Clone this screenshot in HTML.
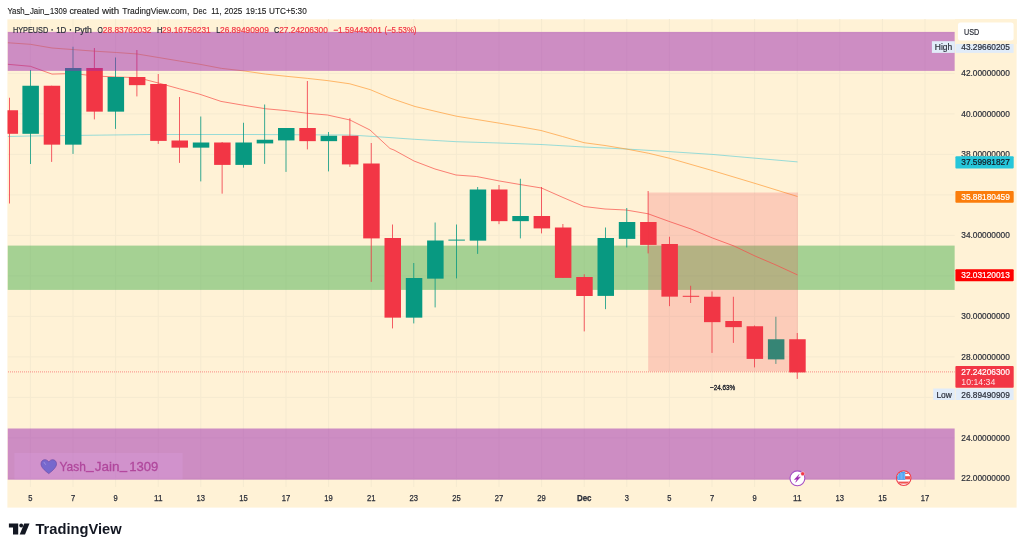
<!DOCTYPE html>
<html><head><meta charset="utf-8"><title>HYPEUSD chart</title>
<style>
html,body{margin:0;padding:0;background:#fff;}
body{width:1024px;height:551px;overflow:hidden;position:relative;font-family:"Liberation Sans",sans-serif;}
svg{position:absolute;left:0;top:0;display:block;will-change:transform;}
text{font-family:"Liberation Sans",sans-serif;}
</style></head><body>
<svg width="1024" height="551" viewBox="0 0 1024 551">
<defs><clipPath id="pane"><rect x="7.5" y="19" width="947.3" height="468.2"/></clipPath></defs>
<rect x="7.4" y="19.3" width="1009.2" height="488.3" fill="#fff2d6"/>
<g stroke="#f5ead0" stroke-width="1" clip-path="url(#pane)">
<line x1="30.40" y1="19" x2="30.40" y2="487"/>
<line x1="73.00" y1="19" x2="73.00" y2="487"/>
<line x1="115.60" y1="19" x2="115.60" y2="487"/>
<line x1="158.20" y1="19" x2="158.20" y2="487"/>
<line x1="200.80" y1="19" x2="200.80" y2="487"/>
<line x1="243.40" y1="19" x2="243.40" y2="487"/>
<line x1="286.00" y1="19" x2="286.00" y2="487"/>
<line x1="328.60" y1="19" x2="328.60" y2="487"/>
<line x1="371.20" y1="19" x2="371.20" y2="487"/>
<line x1="413.80" y1="19" x2="413.80" y2="487"/>
<line x1="456.40" y1="19" x2="456.40" y2="487"/>
<line x1="499.00" y1="19" x2="499.00" y2="487"/>
<line x1="541.60" y1="19" x2="541.60" y2="487"/>
<line x1="584.20" y1="19" x2="584.20" y2="487"/>
<line x1="626.80" y1="19" x2="626.80" y2="487"/>
<line x1="669.40" y1="19" x2="669.40" y2="487"/>
<line x1="712.00" y1="19" x2="712.00" y2="487"/>
<line x1="754.60" y1="19" x2="754.60" y2="487"/>
<line x1="797.20" y1="19" x2="797.20" y2="487"/>
<line x1="839.80" y1="19" x2="839.80" y2="487"/>
<line x1="882.40" y1="19" x2="882.40" y2="487"/>
<line x1="925.00" y1="19" x2="925.00" y2="487"/>
<line x1="8" y1="32.90" x2="954.8" y2="32.90"/>
<line x1="8" y1="73.40" x2="954.8" y2="73.40"/>
<line x1="8" y1="113.90" x2="954.8" y2="113.90"/>
<line x1="8" y1="154.40" x2="954.8" y2="154.40"/>
<line x1="8" y1="194.90" x2="954.8" y2="194.90"/>
<line x1="8" y1="235.40" x2="954.8" y2="235.40"/>
<line x1="8" y1="275.90" x2="954.8" y2="275.90"/>
<line x1="8" y1="316.40" x2="954.8" y2="316.40"/>
<line x1="8" y1="356.90" x2="954.8" y2="356.90"/>
<line x1="8" y1="397.40" x2="954.8" y2="397.40"/>
<line x1="8" y1="437.90" x2="954.8" y2="437.90"/>
<line x1="8" y1="478.40" x2="954.8" y2="478.40"/>
</g>
<g clip-path="url(#pane)">
<rect x="7.5" y="245.6" width="947.3" height="44.3" fill="#4caf50" fill-opacity="0.5"/>
<path d="M7.80,136.50 L30.00,136.00 L150.00,134.50 L250.00,134.50 L350.00,135.00 L380.00,136.90 L414.40,139.30 L456.30,141.70 L499.20,143.00 L541.00,144.50 L584.00,147.00 L626.20,149.00 L669.20,151.60 L712.00,154.40 L755.00,158.20 L797.50,161.90" fill="none" stroke="#5fcfd6" stroke-opacity="0.68" stroke-width="0.95"/>
<path d="M7.80,42.75 L30.40,44.30 L52.00,48.00 L73.50,49.60 L94.70,51.20 L116.70,52.50 L137.30,54.00 L158.40,57.50 L179.40,61.00 L200.00,64.30 L221.50,68.40 L243.75,70.90 L265.60,74.10 L286.00,76.25 L307.60,78.40 L328.20,80.70 L349.80,83.80 L370.40,89.70 L390.00,98.00 L415.00,106.50 L440.00,112.40 L456.40,116.20 L499.50,123.20 L520.00,126.70 L541.00,130.50 L562.50,136.50 L584.00,142.70 L605.00,145.50 L626.20,149.00 L648.75,153.30 L669.20,158.20 L712.10,170.50 L755.00,183.40 L797.50,196.50" fill="none" stroke="#ff9830" stroke-opacity="0.75" stroke-width="0.9"/>
<path d="M7.80,64.30 L30.40,66.30 L52.00,74.10 L73.50,73.50 L94.70,76.00 L116.70,77.00 L137.30,77.60 L158.40,83.00 L179.40,88.80 L200.00,94.30 L221.00,101.40 L243.75,105.30 L265.60,108.75 L286.00,110.60 L307.50,113.30 L327.50,115.00 L350.00,120.00 L370.00,130.00 L390.00,148.50 L394.00,150.00 L414.00,161.00 L435.00,169.00 L456.00,175.00 L476.50,176.50 L499.50,181.00 L520.00,184.50 L541.50,188.00 L563.00,197.50 L584.00,206.50 L605.00,209.00 L626.00,210.00 L648.00,213.75 L670.00,221.75 L691.00,229.00 L712.50,238.00 L734.00,246.00 L755.00,256.00 L776.00,265.00 L797.50,274.90" fill="none" stroke="#f8564f" stroke-opacity="0.78" stroke-width="0.95"/>
<line x1="8" y1="371.9" x2="954.8" y2="371.9" stroke="#f23645" stroke-opacity="0.55" stroke-width="1" stroke-dasharray="1 1"/>
<rect x="9.15" y="97.75" width="0.8" height="105.75" fill="#f23645"/>
<rect x="1.55" y="110.25" width="16.5" height="23.55" fill="#f23645"/>
<rect x="30.00" y="70.00" width="0.8" height="94.00" fill="#089981"/>
<rect x="22.40" y="85.75" width="16.5" height="48.05" fill="#089981"/>
<rect x="51.30" y="85.75" width="0.8" height="76.15" fill="#f23645"/>
<rect x="43.70" y="85.75" width="16.5" height="58.90" fill="#f23645"/>
<rect x="72.60" y="46.75" width="0.8" height="107.15" fill="#089981"/>
<rect x="65.00" y="68.00" width="16.5" height="76.65" fill="#089981"/>
<rect x="93.90" y="48.00" width="0.8" height="71.40" fill="#f23645"/>
<rect x="86.30" y="68.00" width="16.5" height="43.65" fill="#f23645"/>
<rect x="115.20" y="57.50" width="0.8" height="71.40" fill="#089981"/>
<rect x="107.60" y="77.00" width="16.5" height="34.65" fill="#089981"/>
<rect x="136.50" y="50.00" width="0.8" height="46.40" fill="#f23645"/>
<rect x="128.90" y="77.00" width="16.5" height="8.15" fill="#f23645"/>
<rect x="157.80" y="74.00" width="0.8" height="69.90" fill="#f23645"/>
<rect x="150.20" y="84.00" width="16.5" height="56.90" fill="#f23645"/>
<rect x="179.10" y="97.00" width="0.8" height="65.90" fill="#f23645"/>
<rect x="171.50" y="140.50" width="16.5" height="7.15" fill="#f23645"/>
<rect x="200.40" y="116.50" width="0.8" height="64.90" fill="#089981"/>
<rect x="192.80" y="142.50" width="16.5" height="5.15" fill="#089981"/>
<rect x="221.70" y="142.00" width="0.8" height="51.65" fill="#f23645"/>
<rect x="214.10" y="142.50" width="16.5" height="22.40" fill="#f23645"/>
<rect x="243.00" y="122.75" width="0.8" height="44.90" fill="#089981"/>
<rect x="235.40" y="142.50" width="16.5" height="22.40" fill="#089981"/>
<rect x="264.30" y="104.50" width="0.8" height="59.40" fill="#089981"/>
<rect x="256.70" y="139.75" width="16.5" height="3.65" fill="#089981"/>
<rect x="285.60" y="128.00" width="0.8" height="43.90" fill="#089981"/>
<rect x="278.00" y="128.00" width="16.5" height="12.40" fill="#089981"/>
<rect x="306.90" y="81.00" width="0.8" height="68.40" fill="#f23645"/>
<rect x="299.30" y="128.00" width="16.5" height="13.15" fill="#f23645"/>
<rect x="328.20" y="132.00" width="0.8" height="39.40" fill="#089981"/>
<rect x="320.60" y="135.75" width="16.5" height="5.40" fill="#089981"/>
<rect x="349.50" y="118.25" width="0.8" height="48.65" fill="#f23645"/>
<rect x="341.90" y="135.75" width="16.5" height="28.65" fill="#f23645"/>
<rect x="370.80" y="143.00" width="0.8" height="138.90" fill="#f23645"/>
<rect x="363.20" y="163.50" width="16.5" height="74.90" fill="#f23645"/>
<rect x="392.10" y="224.50" width="0.8" height="103.90" fill="#f23645"/>
<rect x="384.50" y="238.00" width="16.5" height="79.65" fill="#f23645"/>
<rect x="413.40" y="263.00" width="0.8" height="60.40" fill="#089981"/>
<rect x="405.80" y="278.00" width="16.5" height="39.65" fill="#089981"/>
<rect x="434.70" y="222.50" width="0.8" height="84.90" fill="#089981"/>
<rect x="427.10" y="240.50" width="16.5" height="38.15" fill="#089981"/>
<rect x="456.00" y="224.50" width="0.8" height="53.90" fill="#089981"/>
<rect x="448.40" y="239.60" width="16.5" height="1.00" fill="#089981"/>
<rect x="477.30" y="187.00" width="0.8" height="66.90" fill="#089981"/>
<rect x="469.70" y="189.50" width="16.5" height="51.15" fill="#089981"/>
<rect x="498.60" y="185.00" width="0.8" height="39.15" fill="#f23645"/>
<rect x="491.00" y="189.50" width="16.5" height="31.65" fill="#f23645"/>
<rect x="519.90" y="178.75" width="0.8" height="59.65" fill="#089981"/>
<rect x="512.30" y="216.00" width="16.5" height="5.15" fill="#089981"/>
<rect x="541.20" y="187.00" width="0.8" height="46.40" fill="#f23645"/>
<rect x="533.60" y="216.00" width="16.5" height="12.40" fill="#f23645"/>
<rect x="562.50" y="224.00" width="0.8" height="53.90" fill="#f23645"/>
<rect x="554.90" y="227.50" width="16.5" height="50.40" fill="#f23645"/>
<rect x="583.80" y="274.25" width="0.8" height="57.15" fill="#f23645"/>
<rect x="576.20" y="277.00" width="16.5" height="19.00" fill="#f23645"/>
<rect x="605.10" y="227.50" width="0.8" height="81.65" fill="#089981"/>
<rect x="597.50" y="238.00" width="16.5" height="57.90" fill="#089981"/>
<rect x="626.40" y="208.00" width="0.8" height="39.40" fill="#089981"/>
<rect x="618.80" y="222.00" width="16.5" height="16.90" fill="#089981"/>
<rect x="647.70" y="191.00" width="0.8" height="62.40" fill="#f23645"/>
<rect x="640.10" y="222.00" width="16.5" height="22.90" fill="#f23645"/>
<rect x="669.00" y="236.75" width="0.8" height="69.40" fill="#f23645"/>
<rect x="661.40" y="244.00" width="16.5" height="52.65" fill="#f23645"/>
<rect x="690.30" y="285.75" width="0.8" height="17.25" fill="#f23645"/>
<rect x="682.70" y="295.80" width="16.5" height="1.00" fill="#f23645"/>
<rect x="711.60" y="291.50" width="0.8" height="61.40" fill="#f23645"/>
<rect x="704.00" y="296.75" width="16.5" height="25.40" fill="#f23645"/>
<rect x="732.90" y="296.75" width="0.8" height="46.15" fill="#f23645"/>
<rect x="725.30" y="321.00" width="16.5" height="6.15" fill="#f23645"/>
<rect x="754.20" y="325.50" width="0.8" height="41.90" fill="#f23645"/>
<rect x="746.60" y="326.25" width="16.5" height="32.65" fill="#f23645"/>
<rect x="775.50" y="316.75" width="0.8" height="47.15" fill="#089981"/>
<rect x="767.90" y="339.25" width="16.5" height="20.15" fill="#089981"/>
<rect x="796.80" y="333.00" width="0.8" height="45.90" fill="#f23645"/>
<rect x="789.20" y="339.25" width="16.5" height="33.15" fill="#f23645"/>
<rect x="648.2" y="192.5" width="149.8" height="178.9" fill="#f23645" fill-opacity="0.2"/>
<rect x="7.5" y="31.9" width="947.3" height="39.0" fill="#9c27b0" fill-opacity="0.5"/>
<rect x="7.5" y="428.5" width="947.3" height="51.2" fill="#9c27b0" fill-opacity="0.5"/>
<rect x="14.5" y="453" width="168" height="26.5" fill="#d9a0e0" fill-opacity="0.3"/>
</g>
<text x="722.6" y="389.9" font-size="7.7" fill="#23262f" stroke="#23262f" stroke-width="0.35" text-anchor="middle" textLength="25.3" lengthAdjust="spacingAndGlyphs">−24.63%</text>
<path d="M48.75,473.6 C44,470 41,467 41,463.8 C41,461.3 42.8,459.7 44.9,459.7 C46.5,459.7 47.9,460.6 48.75,462.1 C49.6,460.6 51,459.7 52.6,459.7 C54.7,459.7 56.5,461.3 56.5,463.8 C56.5,467 53.5,470 48.75,473.6 Z" fill="#7668cd" stroke="#6b4ba8" stroke-width="0.7"/>
<path d="M44.1,462.4 L45.5,464.4" stroke="#a79ae4" stroke-width="0.8" stroke-linecap="round" fill="none"/>
<text x="59.50" y="471.0" font-size="13.6" fill="#b0479c" stroke="#b0479c" stroke-width="0.3" textLength="26.40" lengthAdjust="spacingAndGlyphs">Yash</text>
<text x="94.80" y="471.0" font-size="13.6" fill="#b0479c" stroke="#b0479c" stroke-width="0.3" textLength="24.80" lengthAdjust="spacingAndGlyphs">Jain</text>
<text x="129.30" y="471.0" font-size="13.6" fill="#b0479c" stroke="#b0479c" stroke-width="0.3" textLength="29.10" lengthAdjust="spacingAndGlyphs">1309</text>
<rect x="85.7" y="470.9" width="8.2" height="1.3" fill="#b4489f"/><rect x="119.4" y="470.9" width="8.0" height="1.3" fill="#b4489f"/>
<text x="7.50" y="13.7" font-size="9.9" fill="#1e1e1e" stroke="#1e1e1e" stroke-width="0.15" textLength="17.20" lengthAdjust="spacingAndGlyphs">Yash</text>
<text x="29.90" y="13.7" font-size="9.9" fill="#1e1e1e" stroke="#1e1e1e" stroke-width="0.15" textLength="14.50" lengthAdjust="spacingAndGlyphs">Jain</text>
<text x="50.00" y="13.7" font-size="9.9" fill="#1e1e1e" stroke="#1e1e1e" stroke-width="0.15" textLength="16.90" lengthAdjust="spacingAndGlyphs">1309</text>
<rect x="24.5" y="14.05" width="4.9" height="0.85" fill="#1e1e1e"/><rect x="44.3" y="14.05" width="5.0" height="0.85" fill="#1e1e1e"/>
<text x="69.40" y="13.7" font-size="9.9" fill="#1e1e1e" stroke="#1e1e1e" stroke-width="0.15" textLength="29.85" lengthAdjust="spacingAndGlyphs">created</text>
<text x="101.90" y="13.7" font-size="9.9" fill="#1e1e1e" stroke="#1e1e1e" stroke-width="0.15" textLength="17.35" lengthAdjust="spacingAndGlyphs">with</text>
<text x="122.30" y="13.7" font-size="9.9" fill="#1e1e1e" stroke="#1e1e1e" stroke-width="0.15" textLength="66.95" lengthAdjust="spacingAndGlyphs">TradingView.com,</text>
<text x="193.00" y="13.7" font-size="9.9" fill="#1e1e1e" stroke="#1e1e1e" stroke-width="0.15" textLength="13.40" lengthAdjust="spacingAndGlyphs">Dec</text>
<text x="211.30" y="13.7" font-size="9.9" fill="#1e1e1e" stroke="#1e1e1e" stroke-width="0.15" textLength="10.30" lengthAdjust="spacingAndGlyphs">11,</text>
<text x="224.30" y="13.7" font-size="9.9" fill="#1e1e1e" stroke="#1e1e1e" stroke-width="0.15" textLength="18.10" lengthAdjust="spacingAndGlyphs">2025</text>
<text x="245.70" y="13.7" font-size="9.9" fill="#1e1e1e" stroke="#1e1e1e" stroke-width="0.15" textLength="20.70" lengthAdjust="spacingAndGlyphs">19:15</text>
<text x="269.10" y="13.7" font-size="9.9" fill="#1e1e1e" stroke="#1e1e1e" stroke-width="0.15" textLength="37.65" lengthAdjust="spacingAndGlyphs">UTC+5:30</text>
<text x="12.90" y="32.6" font-size="8.9" fill="#2a2e39" stroke="#2a2e39" stroke-width="0.2" textLength="35.30" lengthAdjust="spacingAndGlyphs">HYPEUSD</text>
<circle cx="52.1" cy="29.9" r="0.8" fill="#2a2e39"/>
<text x="56.20" y="32.6" font-size="8.9" fill="#2a2e39" stroke="#2a2e39" stroke-width="0.2" textLength="10.20" lengthAdjust="spacingAndGlyphs">1D</text>
<circle cx="70.4" cy="29.9" r="0.8" fill="#2a2e39"/>
<text x="74.60" y="32.6" font-size="8.9" fill="#2a2e39" stroke="#2a2e39" stroke-width="0.2" textLength="17.30" lengthAdjust="spacingAndGlyphs">Pyth</text>
<text x="97.50" y="32.6" font-size="8.9" fill="#2a2e39" stroke="#2a2e39" stroke-width="0.2" textLength="5.30" lengthAdjust="spacingAndGlyphs">O</text>
<text x="102.80" y="32.6" font-size="8.9" fill="#f23645" stroke="#f23645" stroke-width="0.2" textLength="48.70" lengthAdjust="spacingAndGlyphs">28.83762032</text>
<text x="156.90" y="32.6" font-size="8.9" fill="#2a2e39" stroke="#2a2e39" stroke-width="0.2" textLength="5.50" lengthAdjust="spacingAndGlyphs">H</text>
<text x="162.10" y="32.6" font-size="8.9" fill="#f23645" stroke="#f23645" stroke-width="0.2" textLength="48.60" lengthAdjust="spacingAndGlyphs">29.16756231</text>
<text x="216.20" y="32.6" font-size="8.9" fill="#2a2e39" stroke="#2a2e39" stroke-width="0.2" textLength="4.10" lengthAdjust="spacingAndGlyphs">L</text>
<text x="220.00" y="32.6" font-size="8.9" fill="#f23645" stroke="#f23645" stroke-width="0.2" textLength="48.80" lengthAdjust="spacingAndGlyphs">26.89490909</text>
<text x="274.00" y="32.6" font-size="8.9" fill="#2a2e39" stroke="#2a2e39" stroke-width="0.2" textLength="5.30" lengthAdjust="spacingAndGlyphs">C</text>
<text x="279.20" y="32.6" font-size="8.9" fill="#f23645" stroke="#f23645" stroke-width="0.2" textLength="48.60" lengthAdjust="spacingAndGlyphs">27.24206300</text>
<text x="333.20" y="32.6" font-size="8.9" fill="#f23645" stroke="#f23645" stroke-width="0.2" textLength="48.80" lengthAdjust="spacingAndGlyphs">−1.59443001</text>
<text x="384.40" y="32.6" font-size="8.9" fill="#f23645" stroke="#f23645" stroke-width="0.2" textLength="32.10" lengthAdjust="spacingAndGlyphs">(−5.53%)</text>
<text x="961.3" y="76.05" font-size="8.8" fill="#2a2e39" stroke="#2a2e39" stroke-width="0.2" textLength="48.5" lengthAdjust="spacingAndGlyphs">42.00000000</text>
<text x="961.3" y="116.55" font-size="8.8" fill="#2a2e39" stroke="#2a2e39" stroke-width="0.2" textLength="48.5" lengthAdjust="spacingAndGlyphs">40.00000000</text>
<text x="961.3" y="157.05" font-size="8.8" fill="#2a2e39" stroke="#2a2e39" stroke-width="0.2" textLength="48.5" lengthAdjust="spacingAndGlyphs">38.00000000</text>
<text x="961.3" y="238.05" font-size="8.8" fill="#2a2e39" stroke="#2a2e39" stroke-width="0.2" textLength="48.5" lengthAdjust="spacingAndGlyphs">34.00000000</text>
<text x="961.3" y="319.05" font-size="8.8" fill="#2a2e39" stroke="#2a2e39" stroke-width="0.2" textLength="48.5" lengthAdjust="spacingAndGlyphs">30.00000000</text>
<text x="961.3" y="359.55" font-size="8.8" fill="#2a2e39" stroke="#2a2e39" stroke-width="0.2" textLength="48.5" lengthAdjust="spacingAndGlyphs">28.00000000</text>
<text x="961.3" y="440.55" font-size="8.8" fill="#2a2e39" stroke="#2a2e39" stroke-width="0.2" textLength="48.5" lengthAdjust="spacingAndGlyphs">24.00000000</text>
<text x="961.3" y="481.05" font-size="8.8" fill="#2a2e39" stroke="#2a2e39" stroke-width="0.2" textLength="48.5" lengthAdjust="spacingAndGlyphs">22.00000000</text>
<rect x="955" y="19" width="61.5" height="25" fill="#fff2d6"/>
<rect x="931.9" y="41.2" width="23" height="11.7" fill="#e1ecf9"/>
<rect x="955.6" y="41.2" width="58" height="11.7" fill="#e1ecf9"/>
<rect x="955" y="19" width="61.5" height="25" fill="#fff2d6"/>
<rect x="958" y="22.5" width="55.6" height="18.1" rx="2.5" fill="#ffffff"/>
<text x="964.1" y="35.3" font-size="8.8" fill="#2a2e39" stroke="#2a2e39" stroke-width="0.2" textLength="15.2" lengthAdjust="spacingAndGlyphs">USD</text>
<text x="934.8" y="49.9" font-size="8.8" fill="#2a2e39" stroke="#2a2e39" stroke-width="0.2" textLength="17.4" lengthAdjust="spacingAndGlyphs">High</text>
<text x="961.3" y="49.95" font-size="8.8" fill="#2a2e39" stroke="#2a2e39" stroke-width="0.2" textLength="48.5" lengthAdjust="spacingAndGlyphs">43.29660205</text>
<rect x="955.4" y="156.3" width="58.3" height="12.2" rx="1" fill="#26c6da"/>
<text x="961.3" y="165.45" font-size="8.8" fill="#131722" stroke="#131722" stroke-width="0.2" textLength="48.5" lengthAdjust="spacingAndGlyphs">37.59981827</text>
<rect x="955.4" y="190.9" width="58.3" height="11.9" rx="1" fill="#fb7d0b"/>
<text x="961.3" y="199.95" font-size="8.8" fill="#ffffff" stroke="#ffffff" stroke-width="0.2" textLength="48.5" lengthAdjust="spacingAndGlyphs">35.88180459</text>
<rect x="955.4" y="269.2" width="58.3" height="12.1" rx="1" fill="#ff0000"/>
<text x="961.3" y="278.35" font-size="8.8" fill="#ffffff" stroke="#ffffff" stroke-width="0.2" textLength="48.5" lengthAdjust="spacingAndGlyphs">32.03120013</text>
<rect x="955.4" y="366" width="58.3" height="21.8" rx="1" fill="#f23645"/>
<text x="961.3" y="375.35" font-size="8.8" fill="#ffffff" stroke="#ffffff" stroke-width="0.2" textLength="48.5" lengthAdjust="spacingAndGlyphs">27.24206300</text>
<text x="961.3" y="385.0" font-size="8.8" fill="#ffffff" fill-opacity="0.85" textLength="34" lengthAdjust="spacingAndGlyphs">10:14:34</text>
<rect x="933.2" y="388.5" width="21.6" height="11.5" fill="#e1ecf9"/>
<rect x="955.6" y="388.5" width="58" height="11.5" fill="#e1ecf9"/>
<text x="936.4" y="397.6" font-size="8.8" fill="#2a2e39" stroke="#2a2e39" stroke-width="0.2" textLength="15.4" lengthAdjust="spacingAndGlyphs">Low</text>
<text x="961.3" y="397.65" font-size="8.8" fill="#2a2e39" stroke="#2a2e39" stroke-width="0.2" textLength="48.5" lengthAdjust="spacingAndGlyphs">26.89490909</text>
<text x="28.30" y="500.6" font-size="8.8" fill="#2a2e39" stroke="#2a2e39" stroke-width="0.25" textLength="4.2" lengthAdjust="spacingAndGlyphs">5</text>
<text x="70.90" y="500.6" font-size="8.8" fill="#2a2e39" stroke="#2a2e39" stroke-width="0.25" textLength="4.2" lengthAdjust="spacingAndGlyphs">7</text>
<text x="113.50" y="500.6" font-size="8.8" fill="#2a2e39" stroke="#2a2e39" stroke-width="0.25" textLength="4.2" lengthAdjust="spacingAndGlyphs">9</text>
<text x="153.95" y="500.6" font-size="8.8" fill="#2a2e39" stroke="#2a2e39" stroke-width="0.25" textLength="8.5" lengthAdjust="spacingAndGlyphs">11</text>
<text x="196.55" y="500.6" font-size="8.8" fill="#2a2e39" stroke="#2a2e39" stroke-width="0.25" textLength="8.5" lengthAdjust="spacingAndGlyphs">13</text>
<text x="239.15" y="500.6" font-size="8.8" fill="#2a2e39" stroke="#2a2e39" stroke-width="0.25" textLength="8.5" lengthAdjust="spacingAndGlyphs">15</text>
<text x="281.75" y="500.6" font-size="8.8" fill="#2a2e39" stroke="#2a2e39" stroke-width="0.25" textLength="8.5" lengthAdjust="spacingAndGlyphs">17</text>
<text x="324.35" y="500.6" font-size="8.8" fill="#2a2e39" stroke="#2a2e39" stroke-width="0.25" textLength="8.5" lengthAdjust="spacingAndGlyphs">19</text>
<text x="366.95" y="500.6" font-size="8.8" fill="#2a2e39" stroke="#2a2e39" stroke-width="0.25" textLength="8.5" lengthAdjust="spacingAndGlyphs">21</text>
<text x="409.55" y="500.6" font-size="8.8" fill="#2a2e39" stroke="#2a2e39" stroke-width="0.25" textLength="8.5" lengthAdjust="spacingAndGlyphs">23</text>
<text x="452.15" y="500.6" font-size="8.8" fill="#2a2e39" stroke="#2a2e39" stroke-width="0.25" textLength="8.5" lengthAdjust="spacingAndGlyphs">25</text>
<text x="494.75" y="500.6" font-size="8.8" fill="#2a2e39" stroke="#2a2e39" stroke-width="0.25" textLength="8.5" lengthAdjust="spacingAndGlyphs">27</text>
<text x="537.35" y="500.6" font-size="8.8" fill="#2a2e39" stroke="#2a2e39" stroke-width="0.25" textLength="8.5" lengthAdjust="spacingAndGlyphs">29</text>
<text x="576.90" y="500.6" font-size="8.8" fill="#2a2e39" stroke="#2a2e39" stroke-width="0.25" textLength="14.6" lengthAdjust="spacingAndGlyphs" font-weight="bold">Dec</text>
<text x="624.70" y="500.6" font-size="8.8" fill="#2a2e39" stroke="#2a2e39" stroke-width="0.25" textLength="4.2" lengthAdjust="spacingAndGlyphs">3</text>
<text x="667.30" y="500.6" font-size="8.8" fill="#2a2e39" stroke="#2a2e39" stroke-width="0.25" textLength="4.2" lengthAdjust="spacingAndGlyphs">5</text>
<text x="709.90" y="500.6" font-size="8.8" fill="#2a2e39" stroke="#2a2e39" stroke-width="0.25" textLength="4.2" lengthAdjust="spacingAndGlyphs">7</text>
<text x="752.50" y="500.6" font-size="8.8" fill="#2a2e39" stroke="#2a2e39" stroke-width="0.25" textLength="4.2" lengthAdjust="spacingAndGlyphs">9</text>
<text x="792.95" y="500.6" font-size="8.8" fill="#2a2e39" stroke="#2a2e39" stroke-width="0.25" textLength="8.5" lengthAdjust="spacingAndGlyphs">11</text>
<text x="835.55" y="500.6" font-size="8.8" fill="#2a2e39" stroke="#2a2e39" stroke-width="0.25" textLength="8.5" lengthAdjust="spacingAndGlyphs">13</text>
<text x="878.15" y="500.6" font-size="8.8" fill="#2a2e39" stroke="#2a2e39" stroke-width="0.25" textLength="8.5" lengthAdjust="spacingAndGlyphs">15</text>
<text x="920.75" y="500.6" font-size="8.8" fill="#2a2e39" stroke="#2a2e39" stroke-width="0.25" textLength="8.5" lengthAdjust="spacingAndGlyphs">17</text>
<circle cx="797.4" cy="478.3" r="7.45" fill="#ffffff" stroke="#a64fc4" stroke-width="1.1"/>
<path d="M799.14,474.4 L794.4,479.6 L797.1,479.2 L795.6,482.3 L800.4,476.9 L797.65,477.4 Z" fill="#9c27b0" stroke="#9c27b0" stroke-width="0.45" stroke-linejoin="round"/>
<circle cx="802.7" cy="473.8" r="2.0" fill="#f23645" stroke="#f6e3ee" stroke-width="0.5"/>
<defs><clipPath id="flagc"><circle cx="903.7" cy="478.1" r="6.6"/></clipPath></defs>
<circle cx="903.7" cy="478.1" r="7.15" fill="#ffffff" stroke="#f0454f" stroke-width="1.4"/>
<g clip-path="url(#flagc)">
<rect x="896" y="470" width="16" height="16" fill="#ffffff"/>
<rect x="896" y="472.6" width="16" height="1.3" fill="#ef5350"/>
<rect x="896" y="476.2" width="16" height="3.2" fill="#ef5350"/>
<rect x="896" y="481.6" width="16" height="2.0" fill="#ef5350"/>
<rect x="896" y="471" width="9.2" height="8.8" fill="#4a9ff0"/>
<rect x="898.40" y="473" width="0.6" height="6.2" fill="#8cc4f7"/>
<rect x="899.80" y="473" width="0.6" height="6.2" fill="#8cc4f7"/>
<rect x="901.20" y="473" width="0.6" height="6.2" fill="#8cc4f7"/>
<rect x="902.60" y="473" width="0.6" height="6.2" fill="#8cc4f7"/>
<rect x="904.00" y="473" width="0.6" height="6.2" fill="#8cc4f7"/>
</g>
<g fill="#131722">
<path d="M8.9,523.6 H18.2 V534.4 H13.0 V527.4 H8.9 Z"/>
<circle cx="21.2" cy="525.5" r="1.9"/>
<path d="M24.2,523.6 H29.5 L25.0,534.4 H19.7 Z"/>
<text x="35.4" y="534.4" font-size="14.6" font-weight="bold" textLength="86.3" lengthAdjust="spacingAndGlyphs">TradingView</text>
</g>
</svg>
</body></html>
